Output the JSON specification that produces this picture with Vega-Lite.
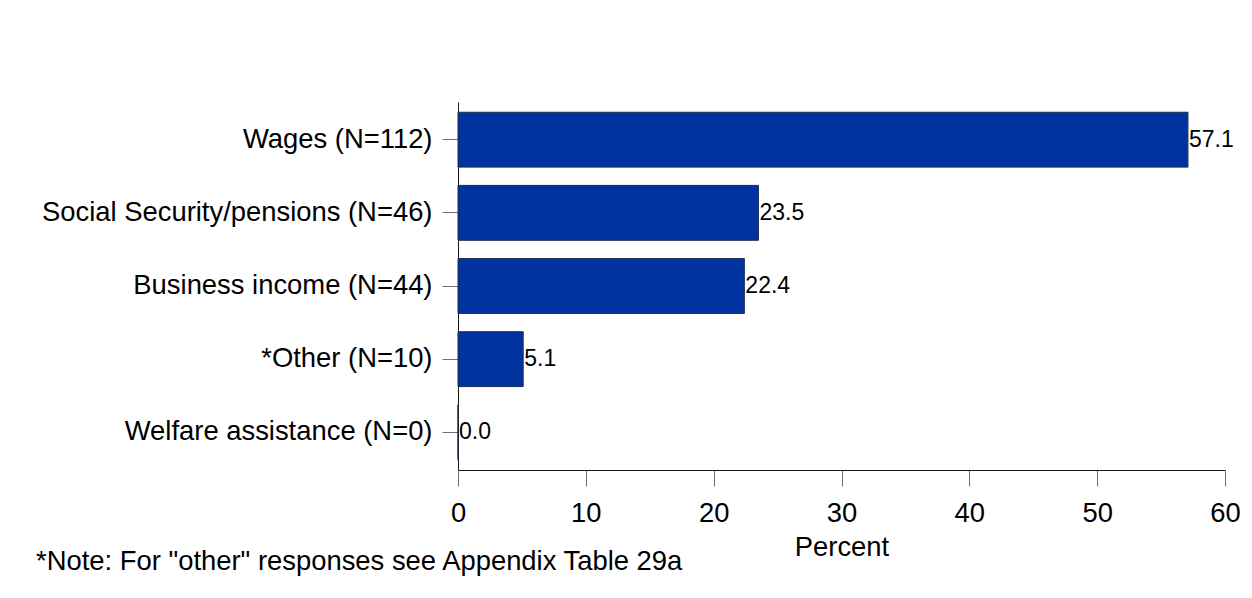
{
  "$schema": "https://vega.github.io/schema/vega-lite/v6.json",
  "autosize": {"type": "none"},
  "padding": {"left": 458, "top": 102, "right": 27, "bottom": 128},
  "width": 767,
  "height": 368,
  "background": "white",
  "config": {
    "view": {"stroke": null},
    "font": "Liberation Sans",
    "axis": {"grid": false, "labelFont": "Liberation Sans", "titleFont": "Liberation Sans", "labelColor": "black", "titleColor": "black", "domainColor": "#1a1a1a", "tickColor": "#6e6e6e", "tickSize": 16, "labelFontWeight": "normal", "titleFontWeight": "normal"}
  },
  "title": {
    "text": "*Note: For \"other\" responses see Appendix Table 29a",
    "orient": "bottom",
    "anchor": "start",
    "frame": "group",
    "dx": -422,
    "offset": -13,
    "fontSize": 27.4,
    "fontWeight": "normal",
    "font": "Liberation Sans",
    "color": "black"
  },
  "data": {
    "values": [
      {"category": "Wages (N=112)", "percent": 57.1},
      {"category": "Social Security/pensions (N=46)", "percent": 23.5},
      {"category": "Business income (N=44)", "percent": 22.4},
      {"category": "*Other (N=10)", "percent": 5.1},
      {"category": "Welfare assistance (N=0)", "percent": 0.0}
    ]
  },
  "encoding": {
    "y": {
      "field": "category",
      "type": "nominal",
      "sort": null,
      "scale": {"paddingInner": 0.25, "paddingOuter": 0.14},
      "axis": {"title": null, "labelFontSize": 27.4, "labelPadding": 10, "labelLimit": 600}
    },
    "x": {
      "field": "percent",
      "type": "quantitative",
      "scale": {"domain": [0, 60], "nice": false},
      "axis": {"title": "Percent", "values": [0, 10, 20, 30, 40, 50, 60], "labelFontSize": 27.4, "titleFontSize": 27.4, "labelPadding": 13, "titlePadding": 7, "labelFlush": false}
    }
  },
  "layer": [
    {
      "mark": {"type": "bar", "color": "#0033a0", "stroke": "#1c2a4e", "strokeWidth": 1}
    },
    {
      "mark": {"type": "text", "align": "left", "baseline": "middle", "dx": 1, "fontSize": 23, "color": "black", "font": "Liberation Sans"},
      "encoding": {"text": {"field": "percent", "type": "quantitative", "format": ".1f"}}
    }
  ]
}
